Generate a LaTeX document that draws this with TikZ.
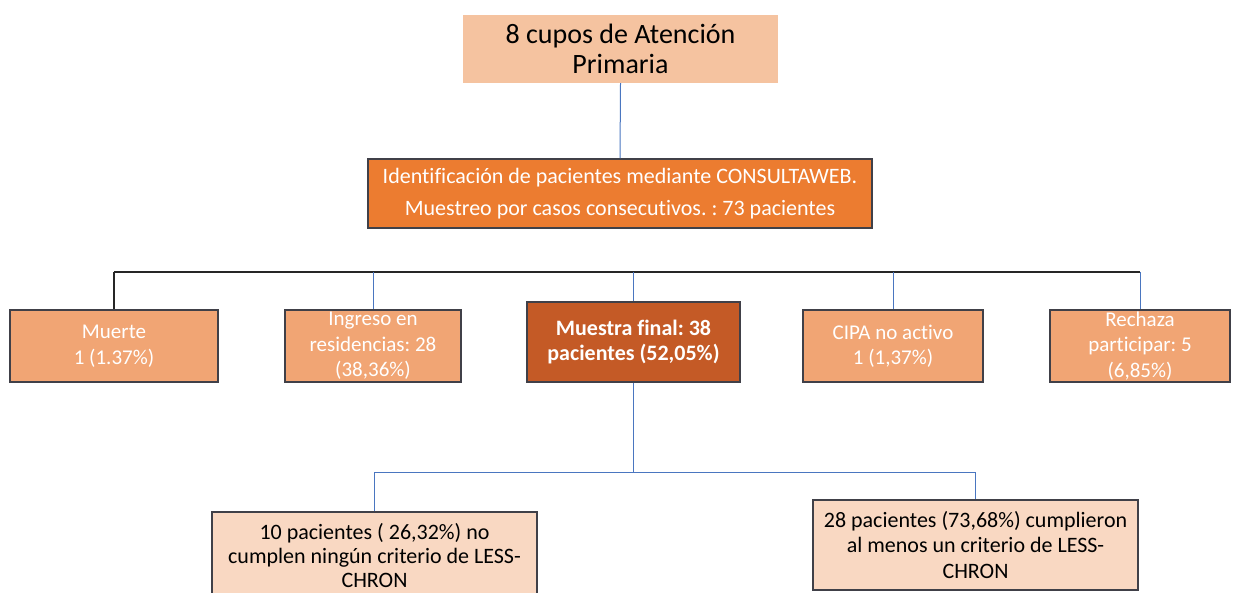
\documentclass[tikz,border=0pt]{standalone}
\usepackage{fontspec}
\setmainfont{Carlito}[Ligatures=NoCommon]
\definecolor{peach}{HTML}{F5C3A0}
\definecolor{orangeA}{HTML}{EC7C30}
\definecolor{rowfill}{HTML}{F1A574}
\definecolor{darkor}{HTML}{C45A26}
\definecolor{lightpeach}{HTML}{F9D8C2}
\definecolor{bordergray}{HTML}{404048}
\definecolor{linkblue}{HTML}{4A76C0}
\begin{document}
\frenchspacing
\begin{tikzpicture}[x=1pt,y=-1pt,
  basebox/.style={rectangle, inner sep=0pt, align=center},
  rowbox/.style={basebox, fill=rowfill, draw=bordergray, line width=1.2pt,
    text=white, font=\fontsize{21}{25.5}\selectfont},
  lowbox/.style={basebox, fill=lightpeach, draw=bordergray, line width=1.4pt,
    text=black, font=\fontsize{22}{25.5}\selectfont},
  link/.style={draw=linkblue, line width=1pt},
  blackline/.style={draw=black!85, line width=1.4pt}]
\useasboundingbox (0,0) rectangle (1233,593);
\clip (0,0) rectangle (1233,593);

\node[basebox, fill=peach, minimum width=315pt, minimum height=68pt,
  font=\fontsize{28}{30}\selectfont] (top) at (620.5,49)
  {8 cupos de Atención\\Primaria};

\node[basebox, fill=orangeA, draw=bordergray, line width=1.5pt, text=white,
  minimum width=504pt, minimum height=69pt,
  font=\fontsize{22}{32}\selectfont] (ident) at (620,193.5)
  {Identificación de pacientes mediante CONSULTAWEB.\\Muestreo por casos consecutivos. : 73 pacientes};

\node[rowbox, minimum width=208pt, minimum height=72pt] (muerte) at (114,346)
  {Muerte\\1 (1.37\%)};
\node[rowbox, minimum width=176pt, minimum height=72pt] (ingreso) at (373,346)
  {Ingreso en\\residencias: 28\\(38,36\%)};
\node[basebox, fill=darkor, draw=bordergray, line width=1.2pt, text=white,
  minimum width=213pt, minimum height=80pt,
  font=\bfseries\fontsize{22}{25.5}\selectfont] (muestra) at (633.5,342)
  {Muestra final: 38\\pacientes (52,05\%)};
\node[rowbox, minimum width=180pt, minimum height=72pt] (cipa) at (893,346)
  {CIPA no activo\\1 (1,37\%)};
\node[rowbox, minimum width=180pt, minimum height=72pt] (rechaza) at (1140,346)
  {Rechaza\\participar: 5\\(6,85\%)};

\node[lowbox, minimum width=325pt, minimum height=88pt,
  font=\fontsize{22}{24}\selectfont] (lb) at (374.5,556)
  {10 pacientes ( 26,32\%) no\\cumplen ningún criterio de LESS-\\CHRON};
\node[lowbox, minimum width=325pt, minimum height=90pt] (rb) at (975.5,545)
  {28 pacientes (73,68\%) cumplieron\\al menos un criterio de LESS-\\CHRON};

% connectors
\draw[link] (top.south) -- (ident.north);

\coordinate (barL) at (114,272);
\coordinate (barR) at (1140,272);
\draw[blackline] (barL) -- (barR);
\draw[blackline] (barL) -- (muerte.north);
\draw[link] (ingreso.north |- barL) -- (ingreso.north);
\draw[link] (muestra.north |- barL) -- (muestra.north);
\draw[link] (cipa.north |- barL) -- (cipa.north);
\draw[link] (barR) -- (rechaza.north);

\coordinate (jl) at (374.5,472);
\coordinate (jr) at (975.5,472);
\draw[link] (muestra.south) -- (muestra.south |- jl);
\draw[link] (lb.north) -- (jl) -- (jr) -- (rb.north);
\end{tikzpicture}
\end{document}
